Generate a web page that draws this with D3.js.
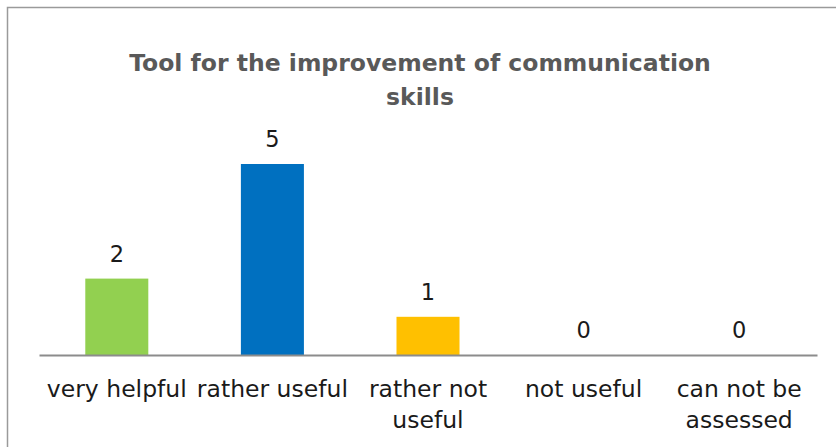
<!DOCTYPE html>
<html>
<head>
<meta charset="utf-8">
<script src="https://cdn.jsdelivr.net/npm/d3@7"></script>
<style>
  html, body { margin: 0; padding: 0; background: #fff; }
  svg { display: block; font-family: "DejaVu Sans", sans-serif; }
</style>
</head>
<body>
<svg width="836" height="447"></svg>
<script>
const categories = ["very helpful", "rather useful", "rather not useful", "not useful", "can not be assessed"];
const counts = [2, 5, 1, 0, 0];
const tickLines = [["very helpful"], ["rather useful"], ["rather not", "useful"], ["not useful"], ["can not be", "assessed"]];
const barColors = ["#92d050", "#0070c0", "#ffc000", "#a5a5a5", "#4472c4"];
const titleLines = ["Tool for the improvement of communication", "skills"];

const svg = d3.select("svg");

// chart frame (cut off on right and bottom like the source image)
svg.append("rect")
  .attr("x", 7.5).attr("y", 7.5)
  .attr("width", 900).attr("height", 500)
  .attr("fill", "none")
  .attr("stroke", "#9a9a9a")
  .attr("stroke-width", 1.5);

svg.append("g").selectAll("text")
  .data(titleLines)
  .join("text")
  .attr("x", 420)
  .attr("y", (d, i) => 71 + i * 34)
  .attr("text-anchor", "middle")
  .attr("font-size", 23.5)
  .attr("font-weight", "bold")
  .attr("fill", "#595959")
  .text((d) => d);

const x = d3.scaleBand(categories, [39, 817])
  .paddingInner(0.595)
  .paddingOuter(0.2975);
const y = d3.scaleLinear([0, 6], [355, 355 - 6 * 38.2]);

svg.append("g").selectAll("rect")
  .data(counts)
  .join("rect")
  .attr("x", (d, i) => x(categories[i]))
  .attr("y", (d) => y(d))
  .attr("width", x.bandwidth())
  .attr("height", (d) => y(0) - y(d))
  .attr("fill", (d, i) => barColors[i]);

svg.append("g").selectAll("text")
  .data(counts)
  .join("text")
  .attr("x", (d, i) => x(categories[i]) + x.bandwidth() / 2)
  .attr("y", (d) => y(d) - 17)
  .attr("text-anchor", "middle")
  .attr("font-size", 22.5)
  .attr("fill", "#1a1a1a")
  .text((d) => d);

// category axis
const xAxis = svg.append("g")
  .attr("transform", `translate(0,${y(0)})`)
  .call(d3.axisBottom(x).tickSize(0).tickFormat(""));
xAxis.select(".domain").attr("stroke", "#8c8c8c").attr("stroke-width", 2);

const labels = svg.append("g").selectAll("text")
  .data(categories)
  .join("text")
  .attr("x", (d) => x(d) + x.bandwidth() / 2)
  .attr("y", 397)
  .attr("text-anchor", "middle")
  .attr("font-size", 23.5)
  .attr("fill", "#1a1a1a");

labels.selectAll("tspan")
  .data((d, i) => tickLines[i])
  .join("tspan")
  .attr("x", function () { return this.parentNode.getAttribute("x"); })
  .attr("dy", (d, i) => (i === 0 ? 0 : 31))
  .text((d) => d);
</script>
</body>
</html>
